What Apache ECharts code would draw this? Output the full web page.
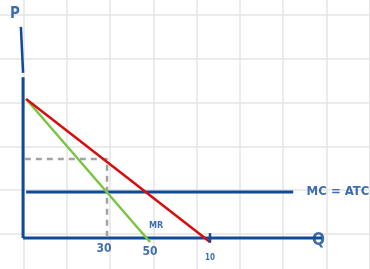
<!DOCTYPE html>
<html>
<head>
<meta charset="utf-8">
<script src="https://cdn.jsdelivr.net/npm/echarts@6/dist/echarts.min.js"></script>
<style>
html, body { margin: 0; padding: 0; background: #fff; }
#main { width: 370px; height: 269px; }
</style>
</head>
<body>
<div id="main"></div>
<script>
// units: one grid square = 1
var BLUE = "#0f4a99";
var RED = "#d80d0d";
var GREEN = "#7cc443";
var GREY = "#a3a3a3";
var GRID_COLOR = "#e4e4e4";

var yAxisTop = [[-0.06, 4.73], [-0.01, 3.68]];
var yAxisLine = [[-0.01, 3.58], [-0.01, -0.091]];
var xAxisLine = [[-0.01, -0.091], [6.86, -0.091]];
var mcLine = [[0.06, 0.959], [6.2, 0.959]];
var demand = [[0.06, 3.082], [4.287, -0.183]];
var mr = [[0.06, 3.082], [2.908, -0.183]];
var dashed = [[0.03, 1.712], [1.92, 1.712], [1.92, -0.091]];
var tick10 = [[4.287, 0.02], [4.287, -0.2]];

var labelNames = ["P", "30", "50", "MR", "10", "Q", "MC = ATC"];
var labelPos = [[-0.195, 5.02], [1.85, -0.34], [2.91, -0.41], [3.05, 0.18], [4.29, -0.55], [6.78, -0.16], [7.23, 0.959]];
var labelSize = [15, 12, 12, 9, 8, 17, 13];

var chart = echarts.init(document.getElementById("main"));

function seg(data, color, width, type) {
	return {
		type: "line",
		xAxisIndex: 1,
		yAxisIndex: 1,
		data: data,
		symbol: "none",
		silent: true,
		clip: false,
		animation: false,
		lineStyle: { color: color, width: width, type: type || "solid" }
	};
}

var series = [
	seg(yAxisTop, BLUE, 2.5),
	seg(yAxisLine, BLUE, 3),
	seg(xAxisLine, BLUE, 3),
	seg(mcLine, BLUE, 3),
	seg(dashed, GREY, 2.5, [6, 5]),
	seg(mr, GREEN, 2.5),
	seg(demand, RED, 2.5),
	seg(tick10, BLUE, 2.5)
];

series.push({
	type: "scatter",
	xAxisIndex: 1,
	yAxisIndex: 1,
	symbolSize: 0,
	clip: false,
	animation: false,
	silent: true,
	data: labelNames.map(function(name, i) {
		return {
			value: labelPos[i],
			label: {
				show: true,
				position: "inside",
				formatter: name,
				color: BLUE,
				fontWeight: "bold",
				fontSize: labelSize[i],
				fontFamily: "DejaVu Sans Condensed, DejaVu Sans"
			}
		};
	})
});

var hidden = {
	axisLine: { show: false },
	axisTick: { show: false },
	axisLabel: { show: false }
};

var option = {
	backgroundColor: "#fff",
	grid: [
		// vertical grid lines, full height (runs 2px past the right edge)
		{ left: 23.5, right: -2, top: 0, bottom: 0 },
		// horizontal grid lines + the drawing
		{ left: 0, right: 0, top: 15, bottom: 35 }
	],
	xAxis: [
		Object.assign({
			type: "value", gridIndex: 0, min: 0, max: 8.0115, interval: 1,
			splitLine: { lineStyle: { color: GRID_COLOR, width: 1.5 } }
		}, hidden),
		Object.assign({
			type: "value", gridIndex: 1, min: -0.5402, max: 7.9655,
			splitLine: { show: false }
		}, hidden)
	],
	yAxis: [
		Object.assign({
			type: "value", gridIndex: 0, min: 0, max: 1,
			splitLine: { show: false }
		}, hidden),
		Object.assign({
			type: "value", gridIndex: 1, min: 0, max: 5, interval: 1,
			splitLine: { lineStyle: { color: GRID_COLOR, width: 1.5 } }
		}, hidden)
	],
	series: series
};
chart.setOption(option);
</script>
</body>
</html>
